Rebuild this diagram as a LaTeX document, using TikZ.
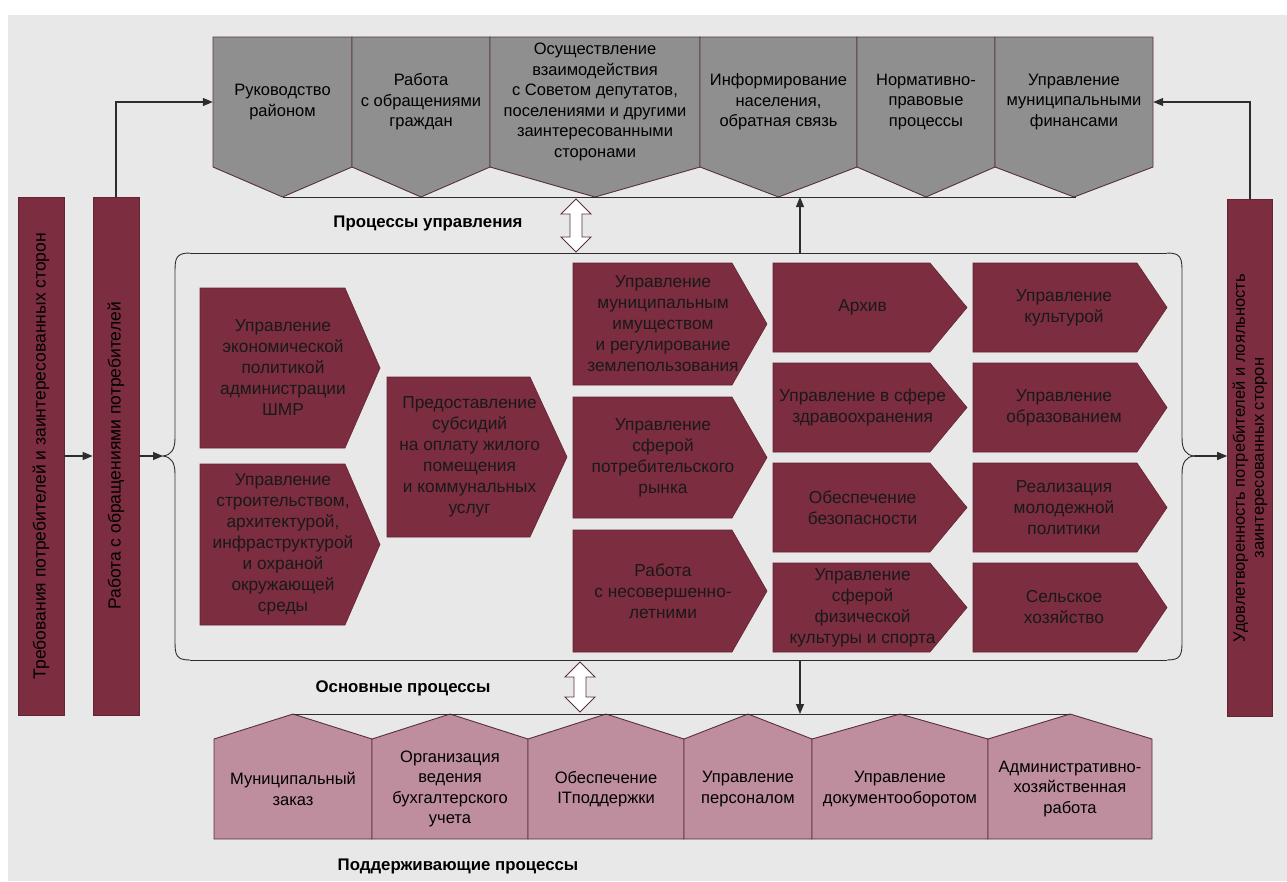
\documentclass[tikz,border=0pt]{standalone}
\usepackage{fontspec}
\setmainfont{Liberation Sans}
\usetikzlibrary{arrows.meta}
\definecolor{bgc}{RGB}{232,232,232}
\definecolor{mgray}{RGB}{143,143,143}
\definecolor{maroonc}{RGB}{124,45,64}
\definecolor{pinkc}{RGB}{190,142,158}
\definecolor{edgec}{RGB}{88,48,60}
\definecolor{linec}{RGB}{45,45,45}
\tikzset{
  mgmt/.style={fill=mgray, draw=edgec, line width=0.9pt, line join=miter},
  core/.style={fill=maroonc, draw=maroonc!80!black, line width=0.6pt},
  supp/.style={fill=pinkc, draw=edgec, line width=0.9pt},
  lbl/.style={align=center, font=\fontsize{16.5}{20.5}\selectfont, text=black, inner sep=0pt},
  corelbl/.style={lbl, font=\fontsize{17.3}{21}\selectfont, text=black!90},
  bar/.style={fill=maroonc, draw=maroonc!80!black, line width=0.6pt, inner sep=0pt, align=center, font=\fontsize{17.5}{20}\selectfont, text=black},
  arr/.style={draw=linec, line width=1.1pt, -{Triangle[length=10pt,width=8pt]}},
  conn/.style={draw=linec, line width=1pt},
  ttl/.style={font=\bfseries\fontsize{16.8}{20}\selectfont, text=black, inner sep=0pt},
  dbl/.style={fill=white, draw=edgec, line width=0.9pt, line join=miter},
}
\newcommand\mkMgmt[4]{%
  \filldraw[mgmt] (#2,37) -- (#3,37) -- (#3,167) -- ({(#2+#3)/2},197) -- (#2,167) -- cycle;
  \node[lbl, minimum width={#3-#2}, minimum height=130] (#1) at ({(#2+#3)/2},102) {#4};}
\newcommand\mkSupp[4]{%
  \filldraw[supp] (#2,839) -- (#2,739) -- ({(#2+#3)/2},714) -- (#3,739) -- (#3,839) -- cycle;
  \node[lbl, minimum width={#3-#2}, minimum height=100] (#1) at ({(#2+#3)/2},789) {#4};}
\newcommand\mkCore[7]{%
  \filldraw[core] (#2,#5) -- (#3,#5) -- (#4,{(#5+#6)/2}) -- (#3,#6) -- (#2,#6) -- cycle;
  \node[corelbl] (#1) at ({(#2+#3)/2+0.3*(#4-#3)},{(#5+#6)/2}) {#7};}
\newcommand\mkDbl[3]{%
  \filldraw[dbl] (#1,#2) -- (#1+15,#2+15) -- (#1+6,#2+15) -- (#1+6,#3-15) -- (#1+15,#3-15) -- (#1,#3)
   -- (#1-15,#3-15) -- (#1-6,#3-15) -- (#1-6,#2+15) -- (#1-15,#2+15) -- cycle;}
\begin{document}
\begin{tikzpicture}[x=1pt,y=-1pt]
\useasboundingbox (0,0) rectangle (1287,881);
\fill[white] (0,0) rectangle (1287,881);
\fill[bgc] (8,15) rectangle (1287,881);

% management processes
\mkMgmt{m1}{213}{352}{Руководство\\районом}
\mkMgmt{m2}{352}{490}{Работа\\с обращениями\\граждан}
\mkMgmt{m3}{490}{700}{Осуществление\\взаимодействия\\с Советом депутатов,\\поселениями и другими\\заинтересованными\\сторонами}
\mkMgmt{m4}{700}{857}{Информирование\\населения,\\обратная связь}
\mkMgmt{m5}{857}{995}{Нормативно-\\правовые\\процессы}
\mkMgmt{m6}{995}{1153}{Управление\\муниципальными\\финансами}
\coordinate (mgL) at (283,197);
\coordinate (mgR) at (1076,197);
\draw[conn] (mgL) -- (mgR);
\node[ttl] (tMgmt) at (428,223) {Процессы управления};

% support processes
\mkSupp{s1}{214}{372}{Муниципальный\\заказ}
\mkSupp{s2}{372}{528}{Организация\\ведения\\бухгалтерского\\учета}
\mkSupp{s3}{528}{684}{Обеспечение\\ITподдержки}
\mkSupp{s4}{684}{812}{Управление\\персоналом}
\mkSupp{s5}{812}{988}{Управление\\документооборотом}
\mkSupp{s6}{988}{1152}{Административно-\\хозяйственная\\работа}
\coordinate (spL) at (293,714);
\coordinate (spR) at (1070,714);
\draw[conn] (spL) -- (spR);
\node[ttl] (tSupp) at (458,866) {Поддерживающие процессы};

% core processes frame (braces)
\coordinate (braceL) at (163,456);
\coordinate (braceR) at (1194,456);
\draw[conn, line width=0.9pt] (190,253) -- (1167,253);
\draw[conn, line width=0.9pt] (190,660) -- (1167,660);
\draw[conn, line width=0.9pt] (190,253) .. controls (176,253) and (175,258) .. (175,272) -- (175,438)
  .. controls (175,450) and (171,455) .. (braceL) .. controls (171,457) and (175,462) .. (175,474)
  -- (175,641) .. controls (175,655) and (176,660) .. (190,660);
\draw[conn, line width=0.9pt] (1167,253) .. controls (1181,253) and (1182,258) .. (1182,272) -- (1182,438)
  .. controls (1182,450) and (1186,455) .. (braceR) .. controls (1186,457) and (1182,462) .. (1182,474)
  -- (1182,641) .. controls (1182,655) and (1181,660) .. (1167,660);
\node[ttl] (tCore) at (403,688) {Основные процессы};

% core processes
\mkCore{cA}{200}{345}{380}{288}{448}{Управление\\экономической\\политикой\\администрации\\ШМР}
\mkCore{cB}{200}{345}{380}{464}{625}{Управление\\строительством,\\архитектурой,\\инфраструктурой\\и охраной\\окружающей\\среды}
\mkCore{cC}{387}{530}{567}{377}{537}{Предоставление\\субсидий\\на оплату жилого\\помещения\\и коммунальных\\услуг}
\mkCore{cD}{573}{732}{767}{263}{385}{Управление\\муниципальным\\имуществом\\и регулирование\\землепользования}
\mkCore{cE}{573}{732}{767}{397}{518}{Управление\\сферой\\потребительского\\рынка}
\mkCore{cF}{573}{732}{767}{530}{652}{Работа\\с несовершенно-\\летними}
\mkCore{cG}{773}{930}{967}{263}{352}{Архив}
\mkCore{cH}{773}{930}{967}{363}{452}{Управление в сфере\\здравоохранения}
\mkCore{cI}{773}{930}{967}{463}{552}{Обеспечение\\безопасности}
\mkCore{cJ}{773}{930}{967}{563}{652}{Управление\\сферой\\физической\\культуры и спорта}
\mkCore{cK}{973}{1137}{1167}{263}{352}{Управление\\культурой}
\mkCore{cL}{973}{1137}{1167}{363}{452}{Управление\\образованием}
\mkCore{cM}{973}{1137}{1167}{463}{552}{Реализация\\молодежной\\политики}
\mkCore{cN}{973}{1137}{1167}{563}{652}{Сельское\\хозяйство}

% double arrows
\mkDbl{576}{199}{252}
\mkDbl{580}{662}{712}

% bars
\node[bar, rotate=90, minimum width=518, minimum height=46] (req) at (41,456) {Требования потребителей и заинтересованных сторон};
\node[bar, rotate=90, minimum width=518, minimum height=46] (work) at (116,456) {Работа с обращениями потребителей};
\node[bar, rotate=90, minimum width=517, minimum height=45, font=\fontsize{16.5}{19}\selectfont] (sat) at (1250,458) {Удовлетворенность потребителей и лояльность\\заинтересованных сторон};

% connectors
\draw[arr] (req.south) -- (work.north);
\draw[arr] (work.south) -- (braceL);
\draw[arr] (braceR) -- (braceR -| sat.north);
\draw[arr] (work.east) |- (m1.west);
\draw[arr] (sat.east) |- (m6.east);
\coordinate (brTop) at (800,253);
\coordinate (mgBase) at (800,197);
\coordinate (brBot) at (800,660);
\coordinate (spBase) at (800,714);
\draw[arr] (brTop) -- (mgBase);
\draw[arr] (brBot) -- (spBase);
\end{tikzpicture}
\end{document}
